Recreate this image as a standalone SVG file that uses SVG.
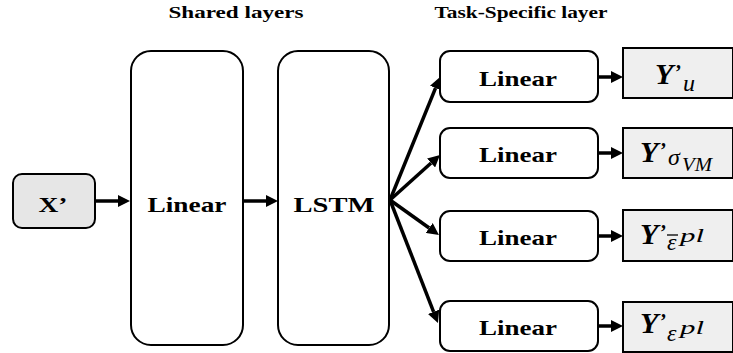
<svg xmlns="http://www.w3.org/2000/svg" width="733" height="353" viewBox="0 0 733 353">
  <style>
    .box { fill: #ffffff; stroke: #000000; stroke-width: 2; }
    .in { fill: #e6e6e6; stroke: #000000; stroke-width: 2; }
    .out { fill: #efefef; stroke: #000000; stroke-width: 2; }
    .lbl { font-family: "Liberation Serif", "Times New Roman", serif; font-weight: bold; font-size: 21px; fill: #000; text-anchor: middle; }
    .title { font-family: "Liberation Serif", "Times New Roman", serif; font-weight: bold; font-size: 16px; fill: #000; text-anchor: middle; }
    .ybig { font-family: "Liberation Serif", "Times New Roman", serif; font-weight: bold; font-style: italic; font-size: 30px; fill: #000; }
    .apos { font-family: "Liberation Serif", "Times New Roman", serif; font-weight: bold; font-size: 20px; fill: #000; }
    .sub { font-family: "Liberation Serif", "Times New Roman", serif; font-style: italic; font-size: 24px; fill: #000; }
    .sub2 { font-family: "Liberation Serif", "Times New Roman", serif; font-style: italic; font-size: 19px; fill: #000; }
    .conn line { stroke: #000000; stroke-width: 3.5; fill: none; }
  </style>
  <defs>
    <marker id="head" viewBox="0 0 12 12" refX="0" refY="6" markerWidth="12" markerHeight="12" markerUnits="userSpaceOnUse" orient="auto">
      <path d="M0,0 L12,6 L0,12 z" fill="#000000"/>
    </marker>
  </defs>

  <!-- column headings -->
  <text class="title" x="236" y="18" textLength="135" lengthAdjust="spacingAndGlyphs">Shared layers</text>
  <text class="title" x="521" y="18" textLength="173" lengthAdjust="spacingAndGlyphs">Task-Specific layer</text>

  <!-- input -->
  <g id="input">
    <rect class="in" x="13" y="174" width="82" height="54" rx="9"/>
    <text class="lbl" x="53" y="212" textLength="29" lengthAdjust="spacingAndGlyphs">X’</text>
  </g>

  <!-- shared layers -->
  <g id="shared-linear">
    <rect class="box" x="131" y="51" width="112" height="294" rx="20"/>
    <text class="lbl" x="187" y="212" textLength="79" lengthAdjust="spacingAndGlyphs">Linear</text>
  </g>
  <g id="lstm">
    <rect class="box" x="278" y="51" width="111" height="294" rx="20"/>
    <text class="lbl" x="334" y="212" textLength="81" lengthAdjust="spacingAndGlyphs">LSTM</text>
  </g>

  <!-- task-specific heads -->
  <g id="head-u">
    <rect class="box" x="440" y="51" width="158" height="51" rx="10"/>
    <text class="lbl" x="518" y="86" textLength="78" lengthAdjust="spacingAndGlyphs">Linear</text>
  </g>
  <g id="head-vm">
    <rect class="box" x="440" y="128" width="158" height="50" rx="10"/>
    <text class="lbl" x="518" y="162" textLength="78" lengthAdjust="spacingAndGlyphs">Linear</text>
  </g>
  <g id="head-epbar">
    <rect class="box" x="440" y="211" width="158" height="50" rx="10"/>
    <text class="lbl" x="518" y="245" textLength="78" lengthAdjust="spacingAndGlyphs">Linear</text>
  </g>
  <g id="head-ep">
    <rect class="box" x="440" y="301" width="158" height="50" rx="10"/>
    <text class="lbl" x="518" y="335" textLength="78" lengthAdjust="spacingAndGlyphs">Linear</text>
  </g>

  <!-- outputs -->
  <g id="out-u">
    <rect class="out" x="623" y="48" width="110" height="50"/>
    <text class="ybig" x="655" y="84">Y</text>
    <text class="apos" x="675" y="79">’</text>
    <text class="sub" x="683" y="91">u</text>
  </g>
  <g id="out-vm">
    <rect class="out" x="623" y="128" width="110" height="50"/>
    <text class="ybig" x="640" y="162">Y</text>
    <text class="apos" x="660" y="157">’</text>
    <text class="sub" x="668" y="165">σ</text>
    <text class="sub2" x="682" y="171" textLength="30" lengthAdjust="spacingAndGlyphs">VM</text>
  </g>
  <g id="out-epbar">
    <rect class="out" x="623" y="210" width="110" height="51"/>
    <text class="ybig" x="640" y="244">Y</text>
    <text class="apos" x="660" y="239">’</text>
    <text class="sub" x="667" y="250">ε</text>
    <line x1="667" y1="235" x2="678" y2="235" stroke="#000" stroke-width="1.3"/>
    <text class="sub2" x="680" y="242" textLength="24" lengthAdjust="spacingAndGlyphs">pl</text>
  </g>
  <g id="out-ep">
    <rect class="out" x="623" y="302" width="110" height="50"/>
    <text class="ybig" x="640" y="333">Y</text>
    <text class="apos" x="660" y="328">’</text>
    <text class="sub" x="667" y="341">ε</text>
    <text class="sub2" x="680" y="334" textLength="24" lengthAdjust="spacingAndGlyphs">pl</text>
  </g>

  <!-- connectors -->
  <g class="conn">
    <line x1="95" y1="201" x2="118" y2="201" marker-end="url(#head)"/>
    <line x1="243" y1="201" x2="266" y2="201" marker-end="url(#head)"/>
    <line x1="390" y1="200" x2="435.5" y2="88.1" marker-end="url(#head)"/>
    <line x1="390" y1="200" x2="431.1" y2="163.0" marker-end="url(#head)"/>
    <line x1="390" y1="200" x2="429.2" y2="228.0" marker-end="url(#head)"/>
    <line x1="390" y1="200" x2="433.6" y2="311.8" marker-end="url(#head)"/>
    <line x1="598" y1="77" x2="611" y2="77" marker-end="url(#head)"/>
    <line x1="598" y1="153" x2="611" y2="153" marker-end="url(#head)"/>
    <line x1="598" y1="236" x2="611" y2="236" marker-end="url(#head)"/>
    <line x1="598" y1="326" x2="611" y2="326" marker-end="url(#head)"/>
  </g>
</svg>
